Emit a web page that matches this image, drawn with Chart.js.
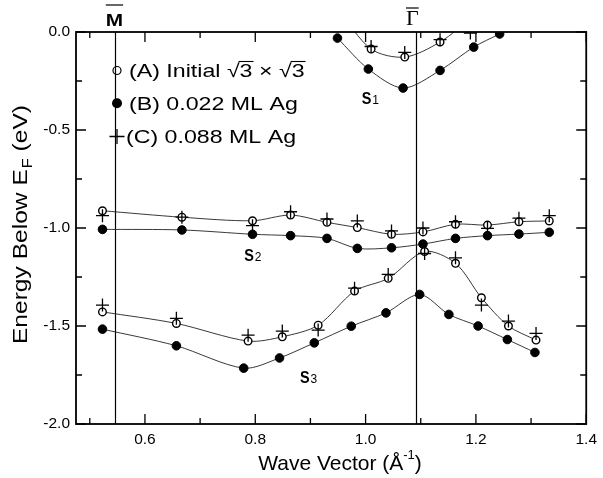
<!DOCTYPE html>
<html>
<head>
<meta charset="utf-8">
<script src="https://cdn.jsdelivr.net/npm/chart.js@4.4.0/dist/chart.umd.min.js"></script>
<style>
  html, body { margin: 0; padding: 0; background: #fff; }
  #wrap { width: 603px; height: 478px; }
</style>
</head>
<body>
<div id="wrap"><canvas id="bands" width="603" height="478"></canvas></div>
<script>
/* globals Chart:false */

// axis ticks
const xTicks = [0.6, 0.8, 1.0, 1.2, 1.4]
const xMinor = [0.5, 0.7, 0.9, 1.1, 1.3]
const yTicks = [0, -0.5, -1.0, -1.5, -2.0]
const yMinor = [-0.25, -0.75, -1.25, -1.75]

// high symmetry points (wave vector, 1/A)
const symWave = [0.5465, 1.092]
const symNames = ['M', 'Γ']

// S1 band
const s1WaveA = [0.949, 1.010, 1.071, 1.135, 1.196]
const s1EnergyA = [0.12, -0.087, -0.128, -0.051, 0.08]
const s1WaveB = [0.949, 1.005, 1.068, 1.135, 1.196, 1.243]
const s1EnergyB = [-0.031, -0.189, -0.286, -0.196, -0.077, -0.010]
const s1WaveC = [1.010, 1.071, 1.135, 1.190]
const s1EnergyC = [-0.074, -0.104, -0.039, -0.005]

// S2 band
const s2Wave = [0.523, 0.667, 0.795, 0.864, 0.930, 0.985, 1.047, 1.104, 1.163, 1.221, 1.278, 1.333]
const s2EnergyA = [-0.912, -0.945, -0.963, -0.934, -0.971, -0.998, -1.032, -1.020, -0.981, -0.985, -0.968, -0.964]
const s2EnergyB = [-1.007, -1.010, -1.032, -1.039, -1.053, -1.104, -1.101, -1.082, -1.053, -1.039, -1.031, -1.022]
const s2EnergyC = [-0.937, -0.945, -0.988, -0.917, -0.954, -0.964, -1.015, -1.000, -0.968, -1.002, -0.950, -0.937]

// S3 band
const s3WaveA = [0.523, 0.657, 0.787, 0.849, 0.914, 0.980, 1.041, 1.107, 1.163, 1.210, 1.259, 1.309]
const s3EnergyA = [-1.428, -1.487, -1.577, -1.555, -1.496, -1.322, -1.257, -1.120, -1.180, -1.356, -1.500, -1.572]
const s3EnergyC = [-1.393, -1.461, -1.547, -1.526, -1.521, -1.307, -1.237, -1.130, -1.152, -1.393, -1.475, -1.538]
const s3WaveB = [0.523, 0.657, 0.779, 0.844, 0.907, 0.974, 1.037, 1.098, 1.151, 1.204, 1.257, 1.307]
const s3EnergyB = [-1.516, -1.601, -1.715, -1.663, -1.586, -1.501, -1.433, -1.339, -1.441, -1.500, -1.569, -1.635]

// band labels: [main, index, wave, energy]
const bandLabels = [['S', '1', 0.993, -0.366], ['S', '2', 0.780, -1.169], ['S', '3', 0.881, -1.792]]

const legendRows = ['(A) Initial √3 × √3', '(B) 0.022 ML Ag', '(C) 0.088 ML Ag']

const FONT = '"Liberation Sans", Arial, Helvetica, sans-serif'

function zip (xs, ys) {
  return xs.map((x, i) => ({ x: x, y: ys[i] }))
}

function openSet (xs, ys) {
  return {
    data: zip(xs, ys), showLine: true, tension: 0.3, clip: 0,
    borderColor: '#222', borderWidth: 0.9,
    pointStyle: 'circle', pointRadius: 3.8, pointBackgroundColor: '#fff',
    pointBorderColor: '#000', pointBorderWidth: 1.4
  }
}

function filledSet (xs, ys) {
  return {
    data: zip(xs, ys), showLine: true, tension: 0.3, clip: 0,
    borderColor: '#222', borderWidth: 0.9,
    pointStyle: 'circle', pointRadius: 4.3, pointBackgroundColor: '#000',
    pointBorderColor: '#000', pointBorderWidth: 1
  }
}

function crossSet (xs, ys) {
  return {
    data: zip(xs, ys), showLine: false, clip: 0,
    pointStyle: 'cross', pointRadius: 6.5, pointBorderColor: '#000',
    pointBorderWidth: 1.3, borderColor: '#000'
  }
}

// text with a horizontal stretch, returns drawn width
function wideText (ctx, txt, x, y, sx) {
  ctx.save()
  ctx.translate(x, y)
  ctx.scale(sx, 1)
  ctx.fillText(txt, 0, 0)
  ctx.restore()
  return ctx.measureText(txt).width * sx
}

const framePlugin = {
  id: 'frame',
  beforeDatasetsDraw (chart) {
    const { ctx, chartArea: a, scales: { x } } = chart
    ctx.save()
    ctx.strokeStyle = '#000'
    ctx.lineWidth = 1.2
    symWave.forEach(k => {
      const px = Math.round(x.getPixelForValue(k)) + 0.5
      ctx.beginPath()
      ctx.moveTo(px, a.top)
      ctx.lineTo(px, a.bottom)
      ctx.stroke()
    })
    ctx.restore()
  },
  afterDatasetsDraw (chart) {
    const { ctx, chartArea: a, scales: { x, y } } = chart
    ctx.save()
    ctx.strokeStyle = '#000'
    ctx.lineWidth = 1.3
    const xt = (vals, len) => vals.forEach(v => {
      const px = x.getPixelForValue(v)
      ctx.beginPath()
      ctx.moveTo(px, a.bottom); ctx.lineTo(px, a.bottom - len)
      ctx.moveTo(px, a.top); ctx.lineTo(px, a.top + len)
      ctx.stroke()
    })
    const yt = (vals, len) => vals.forEach(v => {
      const py = y.getPixelForValue(v)
      ctx.beginPath()
      ctx.moveTo(a.left, py); ctx.lineTo(a.left + len, py)
      ctx.moveTo(a.right, py); ctx.lineTo(a.right - len, py)
      ctx.stroke()
    })
    xt(xTicks, 10); xt(xMinor, 6)
    yt(yTicks, 10); yt(yMinor, 6)
    ctx.lineWidth = 1.8
    ctx.strokeRect(a.left, a.top, a.right - a.left, a.bottom - a.top)
    ctx.restore()
  },
  afterDraw (chart) {
    const { ctx, scales: { x, y } } = chart
    ctx.save()
    ctx.fillStyle = '#000'
    ctx.strokeStyle = '#000'

    // symmetry point names with overbars
    symWave.forEach((k, i) => {
      const px = x.getPixelForValue(k)
      let w
      ctx.textBaseline = 'alphabetic'
      if (i === 0) {
        ctx.font = 'bold 16px ' + FONT
        w = ctx.measureText(symNames[i]).width * 1.3
        wideText(ctx, symNames[i], px - w / 2 - 1, 26, 1.3)
      } else {
        ctx.font = '22px "Liberation Serif", "Times New Roman", serif'
        w = ctx.measureText(symNames[i]).width
        ctx.fillText(symNames[i], px - w / 2 - 4, 25)
      }
      const cx = i === 0 ? px - 1 : px - 4
      ctx.lineWidth = 1.2
      ctx.beginPath()
      ctx.moveTo(cx - w / 2, i === 0 ? 5 : 8)
      ctx.lineTo(cx + w / 2, i === 0 ? 5 : 8)
      ctx.stroke()
    })

    // band labels
    bandLabels.forEach(b => {
      const px = x.getPixelForValue(b[2])
      const py = y.getPixelForValue(b[3])
      ctx.textBaseline = 'alphabetic'
      ctx.font = 'bold 17px ' + FONT
      const w = wideText(ctx, b[0], px, py, 0.85)
      ctx.font = '12px ' + FONT
      ctx.fillText(b[1], px + w + 1, py)
    })

    // legend
    const lx = 117
    const tx0 = 129
    const rows = [70.5, 103.3, 136.5]
    ctx.lineWidth = 1.2
    ctx.beginPath(); ctx.arc(lx, rows[0], 4, 0, Math.PI * 2); ctx.stroke()
    ctx.beginPath(); ctx.arc(lx, rows[1], 5, 0, Math.PI * 2); ctx.fill()
    ctx.lineWidth = 1.3
    ctx.beginPath()
    ctx.moveTo(lx - 7.5, rows[2]); ctx.lineTo(lx + 7.5, rows[2])
    ctx.moveTo(lx, rows[2] - 7.5); ctx.lineTo(lx, rows[2] + 7.5)
    ctx.stroke()
    ctx.font = '19px ' + FONT
    ctx.textBaseline = 'middle'
    const sx = 1.22
    legendRows.forEach((t, i) => wideText(ctx, t, i === 2 ? tx0 - 3 : tx0, rows[i] + 1, sx))
    // radical bars over the 3s
    const t0 = legendRows[0]
    ctx.lineWidth = 1.1
    ;[t0.indexOf('3'), t0.lastIndexOf('3')].forEach(j => {
      const x0 = tx0 + ctx.measureText(t0.slice(0, j)).width * sx
      const x1 = tx0 + ctx.measureText(t0.slice(0, j + 1)).width * sx
      ctx.beginPath(); ctx.moveTo(x0 - 1, 61.5); ctx.lineTo(x1 + 1, 61.5); ctx.stroke()
    })

    // x axis title
    ctx.textBaseline = 'alphabetic'
    ctx.font = '21px ' + FONT
    const p1 = 'Wave Vector (Å'
    const p2 = '-1'
    const p3 = ')'
    const w1 = ctx.measureText(p1).width
    const w3 = ctx.measureText(p3).width
    ctx.font = '13px ' + FONT
    const w2 = ctx.measureText(p2).width
    let tx = 340 - (w1 + w2 + w3) / 2
    ctx.font = '21px ' + FONT
    ctx.fillText(p1, tx, 470)
    ctx.font = '13px ' + FONT
    ctx.fillText(p2, tx + w1, 459)
    ctx.font = '21px ' + FONT
    ctx.fillText(p3, tx + w1 + w2, 470)

    // y axis title, rotated, with subscript F
    ctx.save()
    ctx.translate(27, 225)
    ctx.rotate(-Math.PI / 2)
    const ys = 1.17
    const q1 = 'Energy Below E'
    const q2 = 'F'
    const q3 = ' (eV)'
    ctx.font = '21px ' + FONT
    const v1 = ctx.measureText(q1).width * ys
    const v3 = ctx.measureText(q3).width * ys
    ctx.font = '14px ' + FONT
    const v2 = ctx.measureText(q2).width * ys
    tx = -(v1 + v2 + v3) / 2
    ctx.font = '21px ' + FONT
    wideText(ctx, q1, tx, 0, ys)
    ctx.font = '14px ' + FONT
    wideText(ctx, q2, tx + v1 + 1, 5, ys)
    ctx.font = '21px ' + FONT
    wideText(ctx, q3, tx + v1 + v2 + 1, 0, ys)
    ctx.restore()

    ctx.restore()
  }
}

const ctx = document.getElementById('bands')
new Chart(ctx, {
  type: 'scatter',
  data: {
    datasets: [
      crossSet(s1WaveC, s1EnergyC),
      crossSet(s2Wave, s2EnergyC),
      crossSet(s3WaveA, s3EnergyC),
      openSet(s1WaveA, s1EnergyA),
      openSet(s2Wave, s2EnergyA),
      openSet(s3WaveA, s3EnergyA),
      filledSet(s1WaveB, s1EnergyB),
      filledSet(s2Wave, s2EnergyB),
      filledSet(s3WaveB, s3EnergyB)
    ]
  },
  options: {
    responsive: false,
    animation: false,
    layout: { padding: { top: 32, right: 9, left: 0, bottom: 0 } },
    plugins: { legend: { display: false }, tooltip: { enabled: false } },
    scales: {
      x: {
        type: 'linear',
        min: 0.475,
        max: 1.4,
        grid: { display: false, drawTicks: false },
        border: { display: false },
        afterBuildTicks: scale => { scale.ticks = xTicks.map(v => ({ value: v })) },
        afterFit: scale => { scale.height = 54 },
        ticks: {
          padding: 6,
          color: '#000',
          font: { family: FONT, size: 15.5 },
          maxRotation: 0,
          callback: v => v.toFixed(1)
        }
      },
      y: {
        type: 'linear',
        min: -2,
        max: 0,
        grid: { display: false, drawTicks: false },
        border: { display: false },
        afterBuildTicks: scale => { scale.ticks = yTicks.map(v => ({ value: v })) },
        afterFit: scale => { scale.width = 76 },
        ticks: {
          padding: 6,
          color: '#000',
          font: { family: FONT, size: 15.5 },
          callback: v => v.toFixed(1)
        }
      }
    }
  },
  plugins: [framePlugin]
})
</script>
</body>
</html>
